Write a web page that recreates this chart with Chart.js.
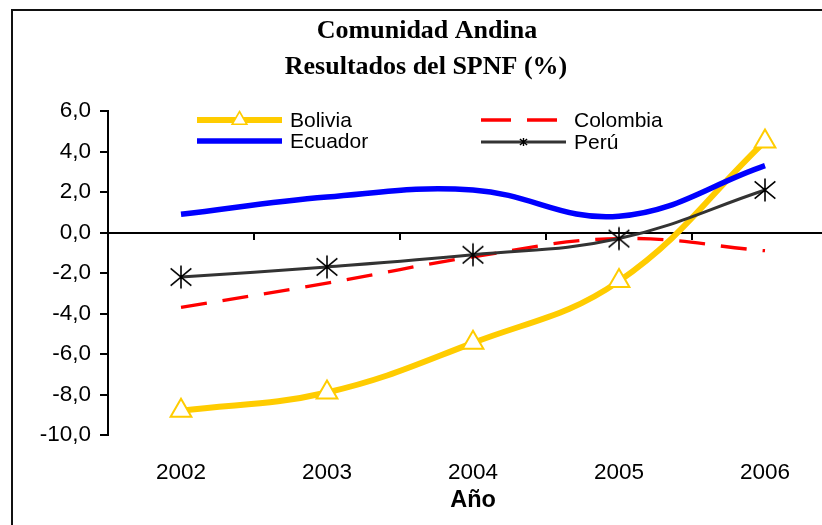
<!DOCTYPE html>
<html>
<head>
<meta charset="utf-8">
<script src="https://cdn.jsdelivr.net/npm/chart.js@4.4.1/dist/chart.umd.min.js"></script>
<style>
    html, body { margin: 0; padding: 0; background: #fff; overflow: hidden; }
    body { width: 822px; height: 525px; position: relative; }
    .frame {
        position: absolute; left: 11px; top: 9px;
        width: 900px; height: 600px;
        border: 2px solid #111; box-sizing: border-box;
    }
    #chart { position: absolute; left: 0; top: 0; }
</style>
</head>
<body>
<div class="frame"></div>
<canvas id="chart" width="860" height="525"></canvas>
<script>
    const years = ['2002', '2003', '2004', '2005', '2006'];
    const bolivia = [-8.8, -7.9, -5.45, -2.4, 4.5];
    const colombia = [-3.7, -2.5, -1.2, -0.3, -0.9];
    const ecuador = [0.9, 1.75, 2.1, 0.8, 3.3];
    const peru = [-2.2, -1.7, -1.1, -0.3, 2.1];
    const yTickValues = [-10, -8, -6, -4, -2, 0, 2, 4, 6];
    const titleLines = ['Comunidad Andina', 'Resultados del SPNF (%)'];
    const xTitle = 'Año';

    const SANS = '"Liberation Sans", Arial, sans-serif';

    function drawAsterisk(ctx, x, y, r, width) {
        ctx.save();
        ctx.strokeStyle = '#000';
        ctx.lineWidth = width;
        ctx.beginPath();
        ctx.moveTo(x, y - r);
        ctx.lineTo(x, y + r);
        ctx.moveTo(x - r * 0.9, y - r * 0.75);
        ctx.lineTo(x + r * 0.9, y + r * 0.75);
        ctx.moveTo(x + r * 0.9, y - r * 0.75);
        ctx.lineTo(x - r * 0.9, y + r * 0.75);
        ctx.stroke();
        ctx.restore();
    }

    // marker image for Perú
    const asterisk = document.createElement('canvas');
    asterisk.width = 26;
    asterisk.height = 26;
    drawAsterisk(asterisk.getContext('2d'), 13, 13, 11.5, 1.6);

    const legendItems = [
        { dataset: 0, x: 197, y: 120, len: 85 },
        { dataset: 1, x: 481, y: 120, len: 76, dash: [30, 16] },
        { dataset: 2, x: 197, y: 141, len: 85 },
        { dataset: 3, x: 481, y: 142, len: 85 },
    ];

    const titleLegendPlugin = {
        id: 'titleLegend',
        afterDraw(chart) {
            const ctx = chart.ctx;
            ctx.save();

            ctx.fillStyle = '#000';
            ctx.font = 'bold 26px "Liberation Serif", "Times New Roman", serif';
            ctx.textAlign = 'center';
            ctx.textBaseline = 'alphabetic';
            ctx.fillText(titleLines[0], 427, 38);
            ctx.fillText(titleLines[1], 426, 74);

            legendItems.forEach(item => {
                const ds = chart.data.datasets[item.dataset];

                ctx.save();
                ctx.strokeStyle = ds.borderColor;
                ctx.lineWidth = ds.borderWidth;
                ctx.setLineDash(item.dash || ds.borderDash || []);
                ctx.beginPath();
                ctx.moveTo(item.x, item.y);
                ctx.lineTo(item.x + item.len, item.y);
                ctx.stroke();
                ctx.restore();

                const mx = item.x + item.len / 2;
                if (ds.pointStyle === 'triangle') {
                    const r = 8.5;
                    ctx.save();
                    ctx.fillStyle = '#fff';
                    ctx.strokeStyle = ds.borderColor;
                    ctx.lineWidth = 1.6;
                    ctx.beginPath();
                    ctx.moveTo(mx, item.y - r);
                    ctx.lineTo(mx + r * 0.866, item.y + r / 2);
                    ctx.lineTo(mx - r * 0.866, item.y + r / 2);
                    ctx.closePath();
                    ctx.fill();
                    ctx.stroke();
                    ctx.restore();
                } else if (ds.pointStyle === asterisk) {
                    drawAsterisk(ctx, mx, item.y, 4, 1.4);
                }

                ctx.fillStyle = '#000';
                ctx.font = '21px ' + SANS;
                ctx.textAlign = 'left';
                ctx.textBaseline = 'middle';
                ctx.fillText(ds.label, item.x + 93, item.y + 1);
            });

            ctx.restore();
        },
    };

    new Chart(document.getElementById('chart'), {
        type: 'line',
        data: {
            labels: years,
            datasets: [
                {
                    label: 'Bolivia',
                    data: bolivia,
                    borderColor: '#FFCC00',
                    borderWidth: 6,
                    pointStyle: 'triangle',
                    pointRadius: 12,
                    pointBorderWidth: 2,
                    pointBackgroundColor: '#fff',
                    order: 4,
                },
                {
                    label: 'Colombia',
                    data: colombia,
                    borderColor: '#FF0000',
                    borderWidth: 3.3,
                    borderDash: [26, 16],
                    pointRadius: 0,
                    order: 3,
                },
                {
                    label: 'Ecuador',
                    data: ecuador,
                    borderColor: '#0000FF',
                    borderWidth: 5.5,
                    pointRadius: 0,
                    order: 2,
                },
                {
                    label: 'Perú',
                    data: peru,
                    borderColor: '#333333',
                    borderWidth: 3,
                    pointStyle: asterisk,
                    pointRadius: 11,
                    order: 1,
                },
            ].map(ds => ({ ...ds, xAxisID: 'x', yAxisID: 'y', tension: 0.4, fill: false })),
        },
        options: {
            responsive: false,
            animation: false,
            layout: {
                padding: { top: 111, right: 22, left: 0, bottom: 0 },
            },
            plugins: {
                legend: { display: false },
                title: { display: false },
                tooltip: { enabled: false },
            },
            scales: {
                x: {
                    type: 'category',
                    position: 'bottom',
                    offset: true,
                    border: { display: false },
                    grid: { display: false, drawTicks: false, tickLength: 0 },
                    ticks: {
                        color: '#000',
                        font: { family: SANS, size: 22.5 },
                        padding: 24,
                        maxRotation: 0,
                        autoSkip: false,
                    },
                    title: {
                        display: true,
                        text: xTitle,
                        color: '#000',
                        font: { family: SANS, size: 23.5, weight: 'bold' },
                        padding: { top: 0, bottom: 10 },
                    },
                    afterFit(scale) {
                        scale.height = 90;
                    },
                },
                x2: {
                    type: 'category',
                    position: { y: 0 },
                    offset: true,
                    ticks: { display: false },
                    border: { display: true, color: '#000', width: 2 },
                    grid: {
                        offset: true,
                        drawOnChartArea: false,
                        drawTicks: true,
                        tickLength: 6,
                        color: '#000',
                        lineWidth: 2,
                    },
                },
                y: {
                    min: -10,
                    max: 6,
                    afterBuildTicks(scale) {
                        scale.ticks = yTickValues.map(v => ({ value: v }));
                    },
                    ticks: {
                        color: '#000',
                        font: { family: SANS, size: 22.5 },
                        padding: 9,
                        callback: value => value.toFixed(1).replace('.', ','),
                    },
                    border: { display: true, color: '#000', width: 2 },
                    grid: {
                        drawOnChartArea: false,
                        drawTicks: true,
                        tickLength: 8,
                        color: '#000',
                        lineWidth: 2,
                    },
                    afterFit(scale) {
                        scale.width = 108;
                    },
                },
            },
        },
        plugins: [titleLegendPlugin],
    });
</script>
</body>
</html>
